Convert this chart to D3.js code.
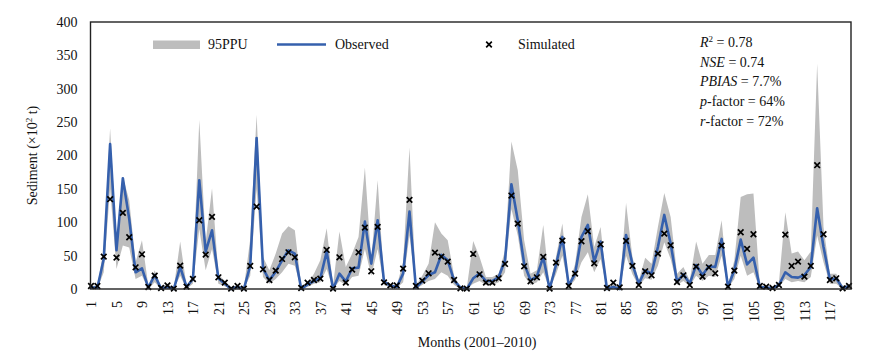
<!DOCTYPE html>
<html>
<head>
<meta charset="utf-8">
<script src="https://cdn.jsdelivr.net/npm/d3@7"></script>
<style>
  body { margin: 0; background: #fff; }
  svg text { font-family: "Liberation Serif", "Times New Roman", "DejaVu Serif", serif !important; }
</style>
</head>
<body>
<div id="chart"></div>
<script>
// monthly values, 2001-2010 (120 months)
const months = d3.range(1, 121);
const observed = [2,2,45,217,58,166,105,25,31,2,21,0.5,3,0,33,3,15,163,56,88,16,8,0,3,
  0,35,226,31,13,26,43,58,53,0,7,12,16,56,0,23,11,31,32,101,38,103,11,5,
  3,23,116,2,11,21,25,51,43,13,2,0,16,23,12,12,18,43,157,103,38,13,19,48,
  0,36,78,5,23,78,96,41,71,0,3,0,81,37,8,28,23,63,111,68,11,22,8,36,
  21,34,33,75,3,28,74,37,47,3,2,1,6,25,18,17,21,33,121,63,14,16,1,4];
const simulated = [4.5,4.5,48.5,134.5,47,114,77.5,32.5,52,3,20,1.5,5.5,0.5,35,3.5,15,103,51.5,108,17.5,9.5,0.5,4.5,
  0.5,34.5,123.5,29.5,13.5,27.5,45,55,47.5,1.5,9.5,13.5,15.5,58.5,0.5,47.5,9.5,29,55,92,26.5,93,10,5.5,
  5.5,30.5,133.5,4.5,12.5,23.5,54.5,48.5,41,13.5,1,0.5,52.5,22,9.5,9.5,16,37.5,140,98,34,11.5,17.5,48,
  0.5,39.5,72.5,4.5,23,71.5,86.5,38.5,67,1.5,9.5,2.5,72,34.5,6,26.5,20.5,53,83,65.5,10.5,20.5,6,33.5,
  18.5,32.5,23.5,65,3.5,27.5,85,60,82,4.5,3.5,1.5,6,81.5,34.5,41,18.5,34.5,185.5,82,13.5,16,1,4.5];
const ppuUpper = [5,5,60,241,70,168,133,40,73,5,28,3,8,2,71,5,20,253,70,151,22,12,3,6,
  2,75,261,48,28,53,83,94,88,5,8,23,43,91,5,86,33,53,78,182,43,163,13,8,
  5,40,212,5,20,38,100,83,73,20,3,2,72,48,18,18,23,58,221,178,73,23,28,96,
  3,48,98,5,38,108,142,63,93,3,8,3,129,48,12,47,38,93,144,108,23,33,13,71,
  38,51,51,103,6,43,138,142,143,6,4,2,10,115,53,56,43,56,338,93,23,23,5,8];
const ppuLower = [0,0,25,150,30,65,62,15,20,0,10,0,0,0,20,0,8,90,28,60,8,4,0,0,
  0,20,150,18,8,15,25,38,35,0,3,8,10,30,0,12,6,18,20,60,20,60,6,2,
  1,10,80,0,6,12,15,25,20,6,0,0,8,12,6,6,10,25,120,80,20,6,10,25,
  0,22,50,2,14,40,55,25,45,0,1,0,50,22,4,16,14,35,70,45,6,12,4,20,
  12,20,18,50,1,15,50,20,25,1,0,0,3,15,10,12,10,18,80,40,8,8,0,1];
const yTicks = d3.range(0, 401, 50);
const xTicks = d3.range(1, 121, 4);

const width = 889, height = 354;
const plotL = 90.5, plotR = 851, plotT = 22, plotB = 289;
const serif = "'Liberation Serif', 'Times New Roman', 'DejaVu Serif', serif";

const svg = d3.select("#chart").append("svg")
    .attr("width", width)
    .attr("height", height)
    .attr("font-family", serif);

const x = d3.scalePoint().domain(months).range([plotL + 0.5, plotR - 2]);
const y = d3.scaleLinear().domain([0, 400]).range([plotB, plotT]);

const rows = months.map((m, i) => ({
    m: m, obs: observed[i], sim: simulated[i], hi: ppuUpper[i], lo: ppuLower[i]
}));

// 95PPU band
svg.append("path")
    .datum(rows)
    .attr("fill", "#bdbdbd")
    .attr("d", d3.area().x(d => x(d.m)).y0(d => y(d.lo)).y1(d => y(d.hi)));

// observed line
svg.append("path")
    .datum(rows)
    .attr("fill", "none")
    .attr("stroke", "#3560ad")
    .attr("stroke-width", 2.6)
    .attr("stroke-linejoin", "round")
    .attr("d", d3.line().x(d => x(d.m)).y(d => y(d.obs)));

// simulated crosses
const cross = "M-2.8,-2.8L2.8,2.8M-2.8,2.8L2.8,-2.8";
svg.append("g").selectAll("path")
    .data(rows)
    .enter().append("path")
    .attr("transform", d => `translate(${x(d.m)},${y(d.sim)})`)
    .attr("d", cross)
    .attr("stroke", "#000")
    .attr("stroke-width", 1.7)
    .attr("fill", "none");

// frame
svg.append("rect")
    .attr("x", plotL).attr("y", plotT)
    .attr("width", plotR - plotL).attr("height", plotB - plotT)
    .attr("fill", "none")
    .attr("stroke", "#222")
    .attr("stroke-width", 1.4);

// axes
const yAxis = svg.append("g")
    .attr("transform", `translate(${plotL},0)`)
    .call(d3.axisLeft(y).tickValues(yTicks).tickSize(0).tickPadding(13))
    .attr("font-family", serif)
    .attr("font-size", 14);
yAxis.select(".domain").remove();
yAxis.selectAll("text").attr("fill", "#111");

const xAxis = svg.append("g")
    .attr("transform", `translate(0,${plotB})`)
    .call(d3.axisBottom(x).tickValues(xTicks).tickSize(0))
    .attr("font-family", serif)
    .attr("font-size", 14);
xAxis.select(".domain").remove();
xAxis.selectAll("text")
    .attr("fill", "#111")
    .attr("text-anchor", "end")
    .attr("transform", "rotate(-90)")
    .attr("x", -12)
    .attr("y", 0)
    .attr("dy", "0.35em");

// axis titles
const yTitle = svg.append("text")
    .attr("transform", `translate(37,${(plotT + plotB) / 2}) rotate(-90)`)
    .attr("text-anchor", "middle")
    .attr("font-size", 14)
    .attr("fill", "#111");
yTitle.append("tspan").text("Sediment (×10");
yTitle.append("tspan").attr("dy", -5).attr("font-size", 9).text("2");
yTitle.append("tspan").attr("dy", 5).text(" t)");

svg.append("text")
    .attr("x", 477).attr("y", 347)
    .attr("text-anchor", "middle")
    .attr("font-size", 14)
    .attr("fill", "#111")
    .text("Months (2001–2010)");

// legend
const legend = svg.append("g").attr("font-size", 14).attr("fill", "#111");
legend.append("rect")
    .attr("x", 153).attr("y", 40.5).attr("width", 47).attr("height", 8.5)
    .attr("fill", "#bdbdbd");
legend.append("text").attr("x", 208).attr("y", 49).text("95PPU");
legend.append("line")
    .attr("x1", 277).attr("x2", 326).attr("y1", 44.5).attr("y2", 44.5)
    .attr("stroke", "#3560ad").attr("stroke-width", 2.6);
legend.append("text").attr("x", 335).attr("y", 49).text("Observed");
legend.append("path")
    .attr("transform", "translate(489,44.5)")
    .attr("d", cross)
    .attr("stroke", "#000").attr("stroke-width", 1.7);
legend.append("text").attr("x", 518).attr("y", 49).text("Simulated");

// goodness-of-fit statistics
const stats = [
    [["R", true], ["2", false, true], [" = 0.78", false]],
    [["NSE", true], [" = 0.74", false]],
    [["PBIAS", true], [" = 7.7%", false]],
    [["p", true], ["-factor = 64%", false]],
    [["r", true], ["-factor = 72%", false]]
];
const statG = svg.append("g").attr("font-size", 14).attr("fill", "#111");
stats.forEach((parts, i) => {
    const t = statG.append("text").attr("x", 700).attr("y", 47 + i * 19.7);
    parts.forEach(p => {
        const s = t.append("tspan").text(p[0]);
        if (p[1]) s.attr("font-style", "italic");
        if (p[2]) s.attr("dy", -5).attr("font-size", 9);
        else if (i === 0 && p[0].startsWith(" ")) s.attr("dy", 5);
    });
});
</script>
</body>
</html>
